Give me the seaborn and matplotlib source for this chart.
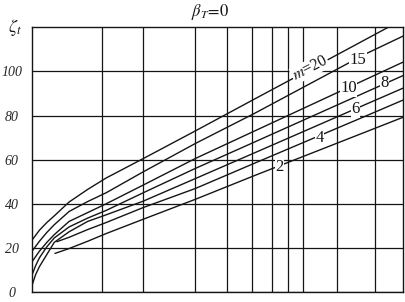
import matplotlib
matplotlib.use("Agg")
import matplotlib.pyplot as plt
import seaborn as sns
import pandas as pd

# x in arbitrary units (0..100 across the plot width); no x labels in the original
grid_x = [18.9, 29.9, 43.9, 52.6, 59.3, 64.7, 69.0, 73.0, 82.2, 92.5]
y_ticks = [0, 20, 40, 60, 80, 100]

m20_x = [0, 2, 4, 6, 10, 15, 20, 30, 44, 60, 75, 96]
m20_y = [23.5, 28, 31.5, 34.5, 40.8, 46.5, 51.7, 60.5, 73, 87.5, 101, 120]
m15_x = [0, 2, 4, 6, 10, 15, 20, 30, 44, 60, 75, 90, 100]
m15_y = [18.5, 23, 27, 30.5, 36.5, 41, 45, 54.5, 67.3, 81, 94.5, 108, 116]
m10_x = [0, 2, 4, 6, 10, 15, 20, 30, 44, 60, 75, 90, 100]
m10_y = [13.7, 18.5, 22.5, 26, 32, 36, 40, 48.5, 60.5, 73, 84.7, 96.4, 104.2]
m8_x = [0, 1, 2, 4, 6, 10, 15, 20, 30, 44, 60, 75, 90, 100]
m8_y = [7.7, 12, 15.5, 20.5, 24.5, 29.5, 33.5, 37, 45, 56, 68, 79.3, 90.6, 98.1]
m6_x = [0, 1, 2, 4, 6, 10, 15, 20, 30, 44, 60, 75, 90, 100]
m6_y = [3, 8, 11.5, 17, 22.5, 27.3, 32, 35, 41.2, 51.4, 63.1, 74.1, 85.1, 92.4]
m4_x = [6.7, 10, 15, 20, 30, 44, 60, 75, 90, 100]
m4_y = [22.8, 24.8, 28.3, 31.5, 38.3, 46.9, 58.4, 69.1, 79.8, 87]
m2_x = [6.2, 10, 15, 20, 30, 44, 60, 75, 90, 100]
m2_y = [17.5, 19.7, 23, 26.5, 33, 42, 52.8, 62.7, 72.6, 79.2]

labels = ["m=20", "15", "10", "8", "6", "4", "2"]
label_x = [74.9, 87.9, 85.4, 94.9, 87.3, 77.6, 66.8]
label_y = [101.4, 105, 92.3, 94.6, 82.8, 70, 56.6]

series = [("20", m20_x, m20_y), ("15", m15_x, m15_y), ("10", m10_x, m10_y),
          ("8", m8_x, m8_y), ("6", m6_x, m6_y), ("4", m4_x, m4_y), ("2", m2_x, m2_y)]
rows = []
for name, xs, ys in series:
    for x, y in zip(xs, ys):
        rows.append({"m": name, "x": x, "y": y})
df = pd.DataFrame(rows)

sns.set_style("white")
plt.rcParams["font.family"] = ["Liberation Serif", "DejaVu Serif"]
plt.rcParams["mathtext.fontset"] = "stix"

fig = plt.figure(figsize=(4.06, 3.02), dpi=100)
ax = fig.add_axes([32 / 406, 10 / 302, 371 / 406, 264.7 / 302])

ink = "#151515"
sns.lineplot(data=df, x="x", y="y", hue="m", palette=[ink] * 7, sort=False,
             estimator=None, legend=False, linewidth=1.0, ax=ax)

ax.set_xlim(0, 100)
ax.set_ylim(0, 120)
ax.set_xticks(grid_x)
ax.set_xticklabels([])
ax.set_yticks(y_ticks)
ax.set_yticklabels([str(v) for v in y_ticks], fontstyle="italic", fontsize=10, ha="center")
ax.tick_params(axis="y", length=0, pad=14.5)
ax.tick_params(axis="x", length=0)
ax.grid(True, color=ink, linewidth=0.9)
ax.set_axisbelow(True)
ax.set_xlabel("")
ax.set_ylabel("")
for s in ax.spines.values():
    s.set_visible(True)
    s.set_color(ink)
    s.set_linewidth(1.0)

for i, (t, x, y) in enumerate(zip(labels, label_x, label_y)):
    if i == 0:
        ax.text(x, y, r"$m$=20", fontsize=11.5, rotation=27, ha="center", va="center",
                color=ink, bbox=dict(facecolor="white", edgecolor="none", pad=0.5), zorder=5)
    else:
        ax.text(x, y, t, fontsize=12, ha="center", va="center", color=ink,
                bbox=dict(facecolor="white", edgecolor="none", pad=0.3), zorder=5)

fig.text(210 / 406, 1 - 12 / 302, r"$\beta_T\!=\!0$", fontsize=12, ha="center", va="center", color=ink)
fig.text(15 / 406, 1 - 28 / 302, r"$\zeta_t$", fontsize=13, ha="center", va="center", color=ink)

fig.savefig("out.png", dpi=100)
